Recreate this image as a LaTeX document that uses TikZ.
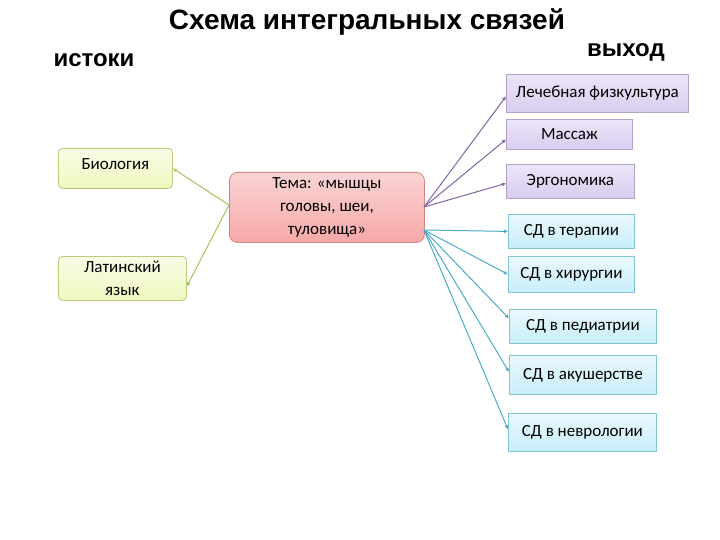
\documentclass[tikz,border=0pt]{standalone}
\usepackage{fontspec}
\setmainfont{Carlito}
\newfontfamily\arialf{Liberation Sans}
\usetikzlibrary{arrows.meta}
\definecolor{gfill}{HTML}{EEF8C0}\definecolor{gline}{HTML}{A5C25A}
\definecolor{pfill}{HTML}{D9CCF0}\definecolor{pline}{HTML}{8064A2}
\definecolor{bfill}{HTML}{C8EEFA}\definecolor{bline}{HTML}{4BACC6}
\definecolor{rfill}{HTML}{F6A8A8}\definecolor{rline}{HTML}{C0504D}
\tikzset{
 box/.style={draw, line width=0.8pt, minimum height=#1, inner sep=2pt, align=center, font=\fontsize{17}{23}\selectfont, anchor=north west},
 gbox/.style={box=40pt, draw=gline!80, top color=gfill!40, bottom color=gfill, rounded corners=4pt},
 pbox/.style={box=30pt, draw=pline!60, top color=pfill!50, bottom color=pfill},
 bbox/.style={box=34pt, draw=bline!70, top color=bfill!40, bottom color=bfill},
 gl/.style={draw=gline, line width=1pt, -{Latex[length=4pt,width=4pt]}},
 pl/.style={draw=pline, line width=1pt, -{Latex[length=4pt,width=4pt]}},
 bl/.style={draw=bline, line width=1pt, -{Latex[length=4pt,width=4pt]}},
}
\begin{document}
\begin{tikzpicture}[x=1pt,y=-1pt]
\useasboundingbox (0,0) rectangle (720,540);
\node[font=\arialf\bfseries\fontsize{28}{32}\selectfont] (title) at (367,22) {Схема интегральных связей};
\node[font=\arialf\bfseries\fontsize{24}{28}\selectfont] (ist) at (94,60) {истоки};
\node[font=\arialf\bfseries\fontsize{24}{28}\selectfont] (vyh) at (626,52) {выход};
\node[gbox, minimum width=114pt, minimum height=40pt, text height=14pt, text depth=12pt] (bio) at (58,148) {Биология};
\node[gbox, minimum width=128pt, minimum height=44pt] (lat) at (58,256) {Латинский\\язык};
\node[box=70pt, minimum width=195pt, draw=rline!70, top color=rfill!50, bottom color=rfill, rounded corners=8pt] (c) at (229,172) {Тема: «мышцы\\головы, шеи,\\туловища»};
\node[pbox, minimum width=182pt, minimum height=38pt] (p1) at (506,74) {Лечебная физкультура};
\node[pbox, minimum width=126pt, minimum height=30pt] (p2) at (506,119) {Массаж};
\node[pbox, minimum width=128pt, minimum height=34pt] (p3) at (506,164) {Эргономика};
\node[bbox, minimum width=126pt] (b1) at (508,214) {СД в терапии};
\node[bbox, minimum width=126pt, minimum height=36pt] (b2) at (508,256) {СД в хирургии};
\node[bbox, minimum width=147pt] (b3) at (509,309) {СД в педиатрии};
\node[bbox, minimum width=147pt, minimum height=39pt] (b4) at (509,355) {СД в акушерстве};
\node[bbox, minimum width=148pt, minimum height=38pt] (b5) at (508,413) {СД в неврологии};
\coordinate (cl) at (229,205);
\coordinate (cr1) at (424,207);
\coordinate (cr2) at (424,230);
\draw[gl] (cl) -- (bio.east);
\draw[gl] (cl) -- ([yshift=-8pt]lat.east);
\draw[pl] (cr1) -- ([yshift=-3pt]p1.west);
\draw[pl] (cr1) -- ([yshift=-5pt]p2.west);
\draw[pl] (cr1) -- ([yshift=-2pt]p3.west);
\draw[bl] (cr2) -- (b1.west);
\draw[bl] (cr2) -- (b2.west);
\draw[bl] (cr2) -- ([yshift=8pt]b3.west);
\draw[bl] (cr2) -- ([yshift=3pt]b4.west);
\draw[bl] (cr2) -- ([yshift=3pt]b5.west);
\end{tikzpicture}
\end{document}
